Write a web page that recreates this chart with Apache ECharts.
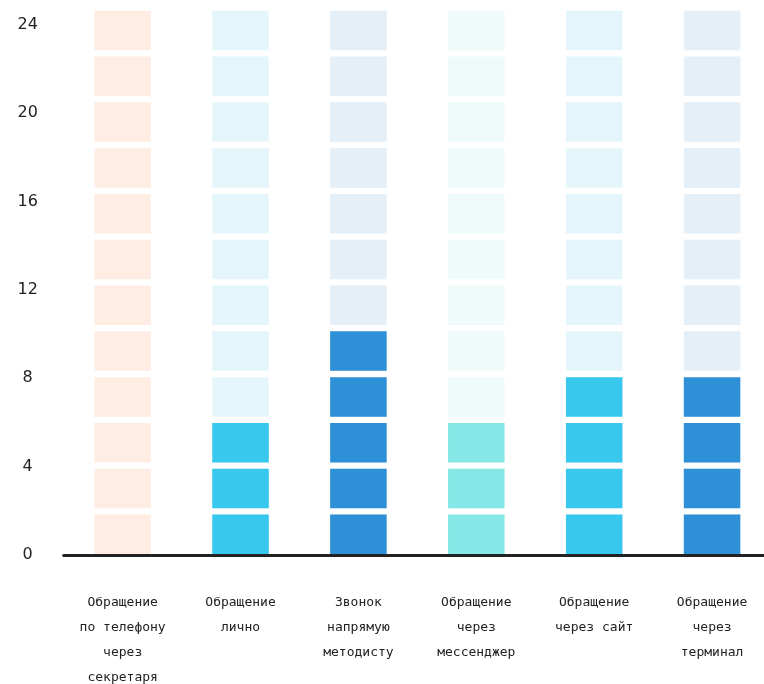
<!DOCTYPE html>
<html>
<head>
<meta charset="utf-8">
<script src="https://cdn.jsdelivr.net/npm/echarts@6/dist/echarts.min.js"></script>
<style>
html,body{margin:0;padding:0;background:#fff;}
#chart{width:764px;height:684px;}
</style>
</head>
<body>
<div id="chart"></div>
<script>
const categories = [
  'Обращение\nпо телефону\nчерез\nсекретаря',
  'Обращение\nлично',
  'Звонок\nнапрямую\nметодисту',
  'Обращение\nчерез\nмессенджер',
  'Обращение\nчерез сайт',
  'Обращение\nчерез\nтерминал'
];
const values = [0, 6, 10, 6, 8, 8];
const maxValue = 24;
const tickInterval = 4;
const barColors = ['#ff8a50', '#38c8ee', '#2e90d6', '#86e8e6', '#38c8ee', '#2e90d6'];
const bgColors = ['#ffede4', '#e4f6fb', '#e4eff8', '#effbfb', '#e4f6fb', '#e4eff8'];

const chart = echarts.init(document.getElementById('chart'), null, {renderer: 'canvas'});

const bgData = categories.map((c, i) => ({value: maxValue, itemStyle: {color: bgColors[i]}}));
const fgData = values.map((v, i) => ({value: v, itemStyle: {color: barColors[i]}}));

const option = {
  animation: false,
  backgroundColor: '#ffffff',
  grid: [
    {left: 63.7, right: -7, top: 25, bottom: 129, containLabel: false, outerBoundsMode: 'none'},
    {left: 63.7, right: -7, top: 7.6, bottom: 126.8, containLabel: false, outerBoundsMode: 'none'}
  ],
  xAxis: [
    {
      type: 'category', gridIndex: 0, data: categories,
      axisLine: {show: true, lineStyle: {color: '#222', width: 3}},
      axisTick: {show: false},
      axisLabel: {
        interval: 0, margin: 35.5, color: '#222',
        fontFamily: 'DejaVu Sans Mono', fontSize: 13, lineHeight: 25, align: 'center'
      },
      splitLine: {show: false}, z: 10
    },
    {
      type: 'category', gridIndex: 1, data: categories, show: false
    }
  ],
  yAxis: [
    {
      type: 'value', gridIndex: 0, min: 0, max: maxValue, interval: tickInterval,
      axisLine: {show: false}, axisTick: {show: false}, splitLine: {show: false},
      axisLabel: {color: '#222', fontFamily: 'DejaVu Sans', fontSize: 16, margin: 36, align: 'center'}
    },
    {
      type: 'value', gridIndex: 1, min: 0, max: maxValue, show: false, splitLine: {show: false}
    }
  ],
  series: [
    {
      type: 'pictorialBar', xAxisIndex: 1, yAxisIndex: 1,
      symbol: 'rect', symbolSize: [56.5, 39.5], symbolRepeat: true, symbolMargin: '3.2!',
      symbolBoundingData: maxValue, barGap: '-100%', z: 1, silent: true,
      data: bgData
    },
    {
      type: 'pictorialBar', xAxisIndex: 1, yAxisIndex: 1,
      symbol: 'rect', symbolSize: [56.5, 39.5], symbolRepeat: true, symbolMargin: '3.2!',
      symbolBoundingData: maxValue, barGap: '-100%', z: 2,
      data: fgData
    }
  ]
};
chart.setOption(option);
</script>
</body>
</html>
